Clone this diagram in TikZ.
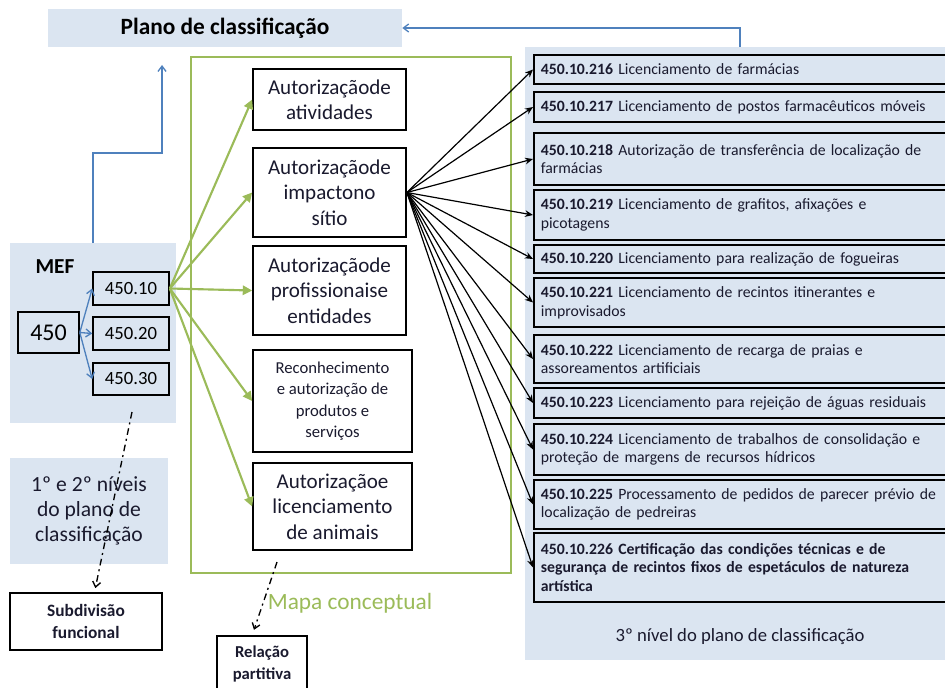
\documentclass[tikz,border=0pt]{standalone}
\usepackage{fontspec}
\setmainfont{Carlito}
\usetikzlibrary{arrows.meta}
\definecolor{panelblue}{HTML}{DBE5F1}
\definecolor{arrowblue}{HTML}{4F81BD}
\definecolor{mapgreen}{HTML}{9BBB59}
\definecolor{txt}{HTML}{1A1A2E}
\begin{document}
\begin{tikzpicture}[x=0.75pt,y=-0.75pt,
  panel/.style={fill=panelblue, draw=none, inner sep=0pt},
  cbox/.style={draw=black, line width=1.3pt, fill=white, align=center, inner sep=0pt, text=txt},
  codebox/.style={draw=black, line width=1.2pt, align=center, inner sep=0pt, font=\fontsize{14}{16}\selectfont},
  rbox/.style={draw=black, line width=1.3pt, fill=panelblue, anchor=west, align=left,
    text width=302.25pt, inner xsep=5.25pt, inner ysep=0pt, minimum width=312.75pt,
    font=\fontsize{11.8}{14}\selectfont, text=txt},
  bigtxt/.style={font=\fontsize{15.8}{19}\selectfont},
  bluearr/.style={draw=arrowblue, line width=1pt, -{Straight Barb[length=4pt,width=6pt]}},
  greenarr/.style={draw=mapgreen, line width=1.6pt, -{Triangle[length=7pt,width=7pt]}},
  blackarr/.style={draw=black, line width=0.9pt, -{Stealth[length=6pt,width=5pt]}},
  dasharr/.style={draw=black, line width=1pt, dash pattern=on 5pt off 3pt on 1.5pt off 3pt,
    -{Straight Barb[length=4pt,width=6pt]}}
]
\useasboundingbox (0,0) rectangle (945,688);
\clip (0,0) rectangle (945,688);

% panels
\node[panel, minimum width=265.5pt, minimum height=28.5pt,
  font=\bfseries\fontsize{17.5}{20}\selectfont] (plano) at (225,28) {Plano de classificação};
\node[panel, minimum width=124.5pt, minimum height=135pt] (mef) at (93,333) {};
\node[panel, minimum width=118.5pt, minimum height=79.5pt, align=center,
  font=\fontsize{16.2}{19}\selectfont, text=txt] (niveis) at (89,511)
  {1º e 2º níveis\\do plano de\\classificação};
\node[panel, minimum width=318.75pt, minimum height=459.75pt] (nivel3) at (737.5,353.5) {};
\node[draw=mapgreen, line width=1.2pt, minimum width=240pt, minimum height=387pt, inner sep=0pt] (mapa) at (351,315) {};

% labels
\node[font=\bfseries\fontsize{16}{18}\selectfont, inner sep=0pt] (meflbl) at (55,267) {MEF};
\node[font=\fontsize{17.5}{20}\selectfont, text=mapgreen, inner sep=0pt] (mapalbl) at (350,603) {Mapa conceptual};
\node[font=\fontsize{14}{16}\selectfont, text=txt, inner sep=0pt] (n3lbl) at (740,637) {3º nível do plano de classificação};

% MEF codes
\node[codebox, minimum width=45.75pt, minimum height=30.75pt, font=\fontsize{18}{20}\selectfont] (b450) at (48.5,332.5) {450};
\node[codebox, minimum width=57pt, minimum height=24.75pt] (b4510) at (131,288.5) {450.10};
\node[codebox, minimum width=57pt, minimum height=24.75pt] (b4520) at (131,333.5) {450.20};
\node[codebox, minimum width=57pt, minimum height=24pt] (b4530) at (131,379) {450.30};

% conceptual map boxes
\node[cbox, bigtxt, minimum width=114.75pt, minimum height=45.75pt] (a1) at (329.5,99.5) {Autorizaçãode\\atividades};
\node[cbox, bigtxt, minimum width=114.75pt, minimum height=66.75pt] (a2) at (329.5,192.5) {Autorizaçãode\\impactono\\sítio};
\node[cbox, bigtxt, minimum width=114.75pt, minimum height=66.75pt] (a3) at (329.5,290.5) {Autorizaçãode\\profissionaise\\entidades};
\node[cbox, minimum width=119.25pt, minimum height=76.5pt, font=\fontsize{12.5}{16}\selectfont] (a4) at (332.5,401) {Reconhecimento\\e autorização de\\produtos e\\serviços};
\node[cbox, bigtxt, minimum width=119.25pt, minimum height=65.25pt] (a5) at (332.5,506.5) {Autorizaçãoe\\licenciamento\\de animais};

% bottom boxes
\node[cbox, minimum width=114pt, minimum height=42.75pt, font=\bfseries\fontsize{13}{16}\selectfont] (subdiv) at (86,621.5) {Subdivisão\\funcional};
\node[cbox, minimum width=67.5pt, minimum height=42pt, font=\bfseries\fontsize{12.5}{16}\selectfont] (relacao) at (262,664) {Relação\\partitiva};

% third level boxes
\node[rbox, minimum height=21.75pt] (r216) at (533,69.5) {\textbf{450.10.216} Licenciamento de farmácias};
\node[rbox, minimum height=22.5pt] (r217) at (533,107) {\textbf{450.10.217} Licenciamento de postos farmacêuticos móveis};
\node[rbox, minimum height=39pt] (r218) at (533,159) {\textbf{450.10.218} Autorização de transferência de localização de\\farmácias};
\node[rbox, minimum height=37.5pt] (r219) at (533,215) {\textbf{450.10.219} Licenciamento de grafitos, afixações e\\picotagens};
\node[rbox, minimum height=21pt] (r220) at (533,259) {\textbf{450.10.220} Licenciamento para realização de fogueiras};
\node[rbox, minimum height=36.75pt] (r221) at (533,302.5) {\textbf{450.10.221} Licenciamento de recintos itinerantes e\\improvisados};
\node[rbox, minimum height=36pt] (r222) at (533,359) {\textbf{450.10.222} Licenciamento de recarga de praias e\\assoreamentos artificiais};
\node[rbox, minimum height=22.5pt] (r223) at (533,403) {\textbf{450.10.223} Licenciamento para rejeição de águas residuais};
\node[rbox, minimum height=38.25pt] (r224) at (533,449.5) {\textbf{450.10.224} Licenciamento de trabalhos de consolidação e\\proteção de margens de recursos hídricos};
\node[rbox, minimum height=36.75pt] (r225) at (533,504.5) {\textbf{450.10.225} Processamento de pedidos de parecer prévio de\\localização de pedreiras};
\node[rbox, minimum height=51.75pt] (r226) at (533,567.5) {\bfseries 450.10.226 Certificação das condições técnicas e de\\segurança de recintos fixos de espetáculos de natureza\\artística};

% blue connectors
\coordinate (toright) at (740,47);
\draw[bluearr] (toright) |- (plano.east);
\coordinate (mefup) at (93,243);
\coordinate (planotip) at (162,65);
\draw[bluearr] (mefup) -- (93,153) -| (planotip);
\foreach \t in {b4510,b4520,b4530}
  \draw[bluearr] (b450.east) -- (\t.west);

% green connectors
\foreach \t in {a1,a2,a3,a4,a5}
  \draw[greenarr] (b4510.east) -- (\t.west);

% black connectors
\foreach \t in {r216,r217,r218,r219,r220,r221,r222,r223,r224,r225,r226}
  \draw[blackarr] (a2.east) -- (\t.west);

% dashed connectors
\coordinate (d1s) at (132,412);
\draw[dasharr] (d1s) -- ([xshift=7pt,yshift=3pt]subdiv.north);
\coordinate (d2s) at (277,562);
\draw[dasharr] (d2s) -- ([xshift=-6pt,yshift=4pt]relacao.north);
\end{tikzpicture}
\end{document}
